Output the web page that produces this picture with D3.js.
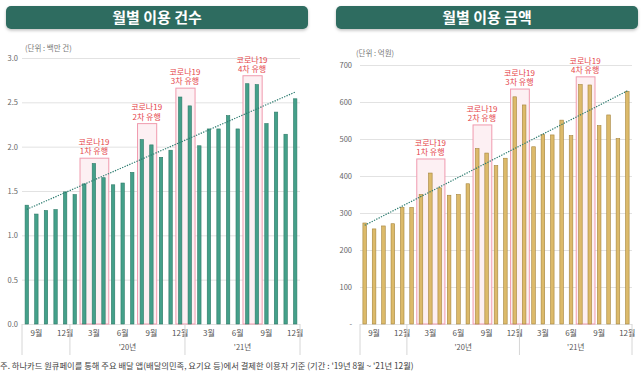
<!DOCTYPE html>
<html>
<head>
<meta charset="utf-8">
<script src="https://cdn.jsdelivr.net/npm/d3@7"></script>
<style>
  body { margin: 0; background: #fff; }
  svg { display: block; font-family: "Noto Sans CJK KR", "Noto Sans", sans-serif; }
</style>
</head>
<body>
<div id="chart"></div>
<script>
// months Aug 2019 - Dec 2021
var months = ["19.08", "19.09", "19.10", "19.11", "19.12",
    "20.01", "20.02", "20.03", "20.04", "20.05", "20.06", "20.07", "20.08", "20.09", "20.10", "20.11", "20.12",
    "21.01", "21.02", "21.03", "21.04", "21.05", "21.06", "21.07", "21.08", "21.09", "21.10", "21.11", "21.12"];

var monthLabels = ["", "9월", "", "", "12월",
    "", "", "3월", "", "", "6월", "", "", "9월", "", "", "12월",
    "", "", "3월", "", "", "6월", "", "", "9월", "", "", "12월"];

var yearGroups = [
    { label: "", from: "19.08", to: "19.12" },
    { label: "'20년", from: "20.01", to: "20.12" },
    { label: "'21년", from: "21.01", to: "21.12" }
];

// 이용 건수 (백만 건)
var countValues = [1.34, 1.24, 1.28, 1.29, 1.49,
    1.46, 1.58, 1.81, 1.65, 1.57, 1.59, 1.71, 2.08, 2.02, 1.88, 1.96, 2.56,
    2.46, 2.01, 2.20, 2.20, 2.35, 2.20, 2.71, 2.70, 2.26, 2.39, 2.14, 2.54];

// 이용 금액 (억원)
var amountValues = [273, 257, 265, 271, 315,
    315, 350, 408, 368, 348, 350, 379, 474, 462, 428, 448, 614,
    592, 479, 512, 511, 551, 509, 647, 646, 536, 565, 501, 629];

var countTicks = [0, 0.5, 1.0, 1.5, 2.0, 2.5, 3.0];
var amountTicks = [0, 100, 200, 300, 400, 500, 600, 700];

// 코로나19 유행 구간
var waves = [
    { label: "1차 유행", from: "20.02", to: "20.04" },
    { label: "2차 유행", from: "20.08", to: "20.09" },
    { label: "3차 유행", from: "20.12", to: "21.01" },
    { label: "4차 유행", from: "21.07", to: "21.08" }
];
// box heights (in each chart's units)
var countWaveTops = [1.87, 2.26, 2.66, 2.80];
var amountWaveTops = [446, 538, 635, 668];

var footnote = "주. 하나카드 원큐페이를 통해 주요 배달 앱(배달의민족, 요기요 등)에서 결제한 이용자 기준 (기간 : '19년 8월 ~ '21년 12월)";

var width = 643, height = 374;

var svg = d3.select("#chart")
    .append("svg")
    .attr("width", width)
    .attr("height", height);

var defs = svg.append("defs");
var shadow = defs.append("filter").attr("id", "shadow")
    .attr("x", "-5%").attr("y", "-30%").attr("width", "110%").attr("height", "180%");
shadow.append("feDropShadow")
    .attr("dx", 0).attr("dy", 1.5).attr("stdDeviation", 1.5)
    .attr("flood-color", "#000").attr("flood-opacity", 0.25);

function drawChart(opts) {
    var g = svg.append("g");

    // title banner
    g.append("rect")
        .attr("x", opts.bannerX)
        .attr("y", 6)
        .attr("width", 302)
        .attr("height", 23)
        .attr("rx", 5)
        .attr("fill", "#2e6c60")
        .attr("filter", "url(#shadow)");
    g.append("text")
        .attr("x", opts.bannerX + 151)
        .attr("y", 18)
        .attr("dy", "0.36em")
        .attr("text-anchor", "middle")
        .attr("fill", "#fff")
        .attr("font-size", 15)
        .attr("font-weight", "bold")
        .text(opts.title);

    var x = d3.scaleBand()
        .domain(months)
        .range([opts.left, opts.right])
        .padding(0);

    var y = d3.scaleLinear()
        .domain([0, opts.max])
        .range([324, opts.top]);

    // unit label
    g.append("text")
        .attr("x", opts.unitX)
        .attr("y", opts.unitY)
        .attr("dy", "0.35em")
        .attr("fill", "#777")
        .attr("font-size", 7.5)
        .text(opts.unit);

    // gridlines + y labels
    var yAxis = d3.axisLeft(y)
        .tickValues(opts.ticks)
        .tickSize(-(opts.right - opts.left))
        .tickPadding(opts.tickPad)
        .tickFormat(opts.format);
    var ya = g.append("g")
        .attr("transform", "translate(" + opts.left + ",0)")
        .call(yAxis);
    ya.select(".domain").remove();
    ya.selectAll(".tick line").attr("stroke", "#e2e2e2");
    ya.selectAll(".tick text")
        .attr("fill", "#666")
        .attr("font-size", 7.5)
        .attr("font-family", "\"Noto Sans CJK KR\", sans-serif");

    // wave boxes
    waves.forEach(function (w, i) {
        var x0 = x(w.from), x1 = x(w.to) + x.bandwidth();
        var top = y(opts.waveTops[i]);
        g.append("rect")
            .attr("x", x0 + 0.5)
            .attr("y", top)
            .attr("width", x1 - x0)
            .attr("height", 324 - top)
            .attr("fill", "#fdf0f3")
            .attr("stroke", "#f09aae")
            .attr("stroke-width", 1);
        var cx = (x0 + x1) / 2;
        g.append("text")
            .attr("x", cx)
            .attr("y", top - 16)
            .attr("dy", "0.35em")
            .attr("text-anchor", "middle")
            .attr("fill", "#e5464b")
            .attr("font-size", 8)
            .text("코로나19");
        g.append("text")
            .attr("x", cx)
            .attr("y", top - 6.5)
            .attr("dy", "0.35em")
            .attr("text-anchor", "middle")
            .attr("fill", "#e5464b")
            .attr("font-size", 8)
            .text(w.label);
    });

    // bars
    var barW = opts.barW;
    g.selectAll(".bar")
        .data(opts.values)
        .enter()
        .append("rect")
        .attr("class", "bar")
        .attr("x", function (d, i) { return x(months[i]) + x.bandwidth() / 2 - barW / 2; })
        .attr("y", function (d) { return y(d); })
        .attr("width", barW)
        .attr("height", function (d) { return 324 - y(d); })
        .attr("fill", opts.fill)
        .attr("stroke", opts.stroke)
        .attr("stroke-width", 0.6);

    // linear trend line
    var n = opts.values.length;
    var mx = d3.mean(opts.values, function (d, i) { return i; });
    var my = d3.mean(opts.values);
    var sxy = d3.sum(opts.values, function (d, i) { return (i - mx) * (d - my); });
    var sxx = d3.sum(opts.values, function (d, i) { return (i - mx) * (i - mx); });
    var slope = sxy / sxx, icpt = my - slope * mx;
    g.append("line")
        .attr("x1", x(months[0]) + x.bandwidth() / 2)
        .attr("y1", y(icpt))
        .attr("x2", x(months[n - 1]) + x.bandwidth() / 2)
        .attr("y2", y(icpt + slope * (n - 1)))
        .attr("stroke", "#2b7b6f")
        .attr("stroke-width", 1.2)
        .attr("stroke-dasharray", "1.3,1.3");

    // month labels
    g.selectAll(".mlab")
        .data(monthLabels)
        .enter()
        .append("text")
        .attr("x", function (d, i) { return x(months[i]) + x.bandwidth() / 2; })
        .attr("y", 333)
        .attr("dy", "0.35em")
        .attr("text-anchor", "middle")
        .attr("fill", "#555")
        .attr("font-size", 8)
        .text(function (d) { return d; });

    // year separators + labels
    var seps = [opts.left];
    yearGroups.forEach(function (yg) { seps.push(x(yg.to) + x.bandwidth()); });
    g.selectAll(".sep")
        .data(seps)
        .enter()
        .append("line")
        .attr("x1", function (d) { return d; })
        .attr("x2", function (d) { return d; })
        .attr("y1", 324)
        .attr("y2", 355)
        .attr("stroke", "#d6d6d6")
        .attr("stroke-width", 1);

    yearGroups.forEach(function (yg) {
        g.append("text")
            .attr("x", (x(yg.from) + x(yg.to) + x.bandwidth()) / 2)
            .attr("y", 347)
            .attr("dy", "0.35em")
            .attr("text-anchor", "middle")
            .attr("fill", "#555")
            .attr("font-size", 7.5)
            .text(yg.label);
    });
}

drawChart({
    title: "월별 이용 건수",
    bannerX: 6,
    left: 22, right: 300, top: 58,
    max: 3.0,
    ticks: countTicks,
    format: d3.format(".1f"),
    tickPad: 4,
    unit: "(단위 : 백만 건)",
    unitX: 25, unitY: 48,
    values: countValues,
    waveTops: countWaveTops,
    barW: 3.4,
    fill: "#44a08a",
    stroke: "#2d7a67"
});

drawChart({
    title: "월별 이용 금액",
    bannerX: 336,
    left: 360, right: 632, top: 65,
    max: 700,
    ticks: amountTicks,
    format: function (d) { return d === 0 ? "-" : d; },
    tickPad: 8,
    unit: "(단위 : 억원)",
    unitX: 356, unitY: 53,
    values: amountValues,
    waveTops: amountWaveTops,
    barW: 3.6,
    fill: "#dcba6a",
    stroke: "#a5843c"
});

svg.append("text")
    .attr("x", 0)
    .attr("y", 366)
    .attr("dy", "0.35em")
    .attr("fill", "#444")
    .attr("font-size", 8.3)
    .text(footnote);
</script>
</body>
</html>
